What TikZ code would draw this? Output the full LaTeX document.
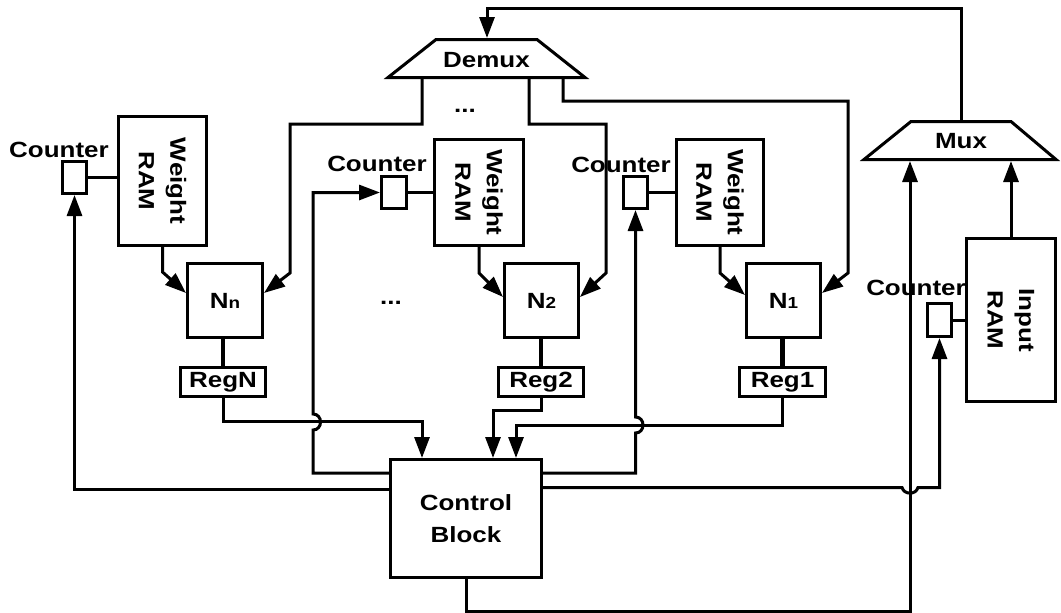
\documentclass[tikz,border=0pt]{standalone}
\usepackage{fontspec}
\newfontfamily\dfont{Liberation Sans}[FakeStretch=1.18]
\usetikzlibrary{arrows.meta,calc}
\begin{document}
\begin{tikzpicture}[x=1pt,y=-1pt,line width=3pt,
  every node/.style={font={\dfont\fontsize{22}{31.5}\selectfont\bfseries},inner sep=0pt},
  box/.style={draw,line width=3pt,inner sep=0pt},
  arr/.style={-{Triangle[length=21pt,width=15pt]}},
  bus/.style={line width=4.5pt},
  sub/.style={}]
\useasboundingbox (0,0) rectangle (1061,613);
% muxes
\draw (388,77.5) -- (436,39.5) -- (537,39.5) -- (585,77.5) -- cycle;
\node[anchor=base] (dmx) at (486.5,67) {Demux};
\draw (864,159.5) -- (911,121.5) -- (1011,121.5) -- (1056,159.5) -- cycle;
\node[anchor=base] (mx) at (961,148) {Mux};
\coordinate (dmIn) at (487,38);
\coordinate (dmO1) at (422,77.5);
\coordinate (dmO2) at (529,77.5);
\coordinate (dmO3) at (563,77.5);
\coordinate (mxOut) at (961,121.5);
\coordinate (mxIn1) at (910,161);
\coordinate (mxIn2) at (1011,161);
% RAMs
\node[box,minimum width=88pt,minimum height=129pt] (ramN) at (162.5,181) {};
\node[rotate=-90,align=center] (ramNt) at (ramN) {Weight\\RAM};
\node[box,minimum width=89pt,minimum height=106pt] (ram2) at (479,192.5) {};
\node[rotate=-90,align=center] (ram2t) at (ram2) {Weight\\RAM};
\node[box,minimum width=87pt,minimum height=106pt] (ram1) at (720,192.5) {};
\node[rotate=-90,align=center] (ram1t) at (ram1) {Weight\\RAM};
\node[box,minimum width=89pt,minimum height=163pt] (ramIn) at (1011,320) {};
\node[rotate=-90,align=center] (ramInt) at (ramIn) {Input\\RAM};
% counters
\node[box,minimum width=24pt,minimum height=32pt] (cntN) at (74.5,177.5) {};
\node[box,minimum width=25pt,minimum height=32pt] (cnt2) at (394,192.5) {};
\node[box,minimum width=24pt,minimum height=32pt] (cnt1) at (635.5,192.5) {};
\node[box,minimum width=24pt,minimum height=33pt] (cntIn) at (939.5,320) {};
\node[anchor=base] (lblN) at (59,157) {Counter};
\node[anchor=base] (lbl2) at (377,171) {Counter};
\node[anchor=base] (lbl1) at (621,172) {Counter};
\node[anchor=base] (lblIn) at (916,295) {Counter};
% neurons
\node[box,minimum width=75pt,minimum height=74pt] (Nn) at (225,300.5) {N{\fontsize{16}{16}\selectfont n}};
\node[box,minimum width=74pt,minimum height=74pt] (N2) at (541.5,300.5) {N{\fontsize{16}{16}\selectfont 2}};
\node[box,minimum width=74pt,minimum height=74pt] (N1) at (783.5,300.5) {N{\fontsize{16}{16}\selectfont 1}};
\node[anchor=base] (dots1) at (465,112) {...};
\node[anchor=base] (dots2) at (391,304) {...};
% registers
\node[box,minimum width=85pt,minimum height=29pt] (RegN) at (223,382) {RegN};
\node[box,minimum width=85pt,minimum height=29pt] (Reg2) at (541,382) {Reg2};
\node[box,minimum width=86pt,minimum height=29pt] (Reg1) at (782.5,382) {Reg1};
% control
\node[box,minimum width=151pt,minimum height=118pt,align=center] (ctrl) at (466,518.5) {Control\\Block};
% connectors
\draw[arr] (mxOut) -- (961,8) -| (dmIn);
\draw[arr] (dmO1) |- (290,124) -- (290,273) -- ($(Nn.east)+(0,-7.5)$);
\draw[arr] (dmO2) |- (606,124) -- (606,273) -- ($(N2.east)+(0,-3.5)$);
\draw[arr] (dmO3) |- (848,101) -- (848,273) -- ($(N1.east)+(0,-7.5)$);
\draw[arr] (ramN.south) -- ++(0,25) -- ($(Nn.west)+(0,-7.5)$);
\draw[arr] (ram2.south) -- ++(0,26) -- ($(N2.west)+(0,-3.5)$);
\draw[arr] (ram1.south) -- ++(0,26) -- ($(N1.west)+(0,-5.5)$);
\draw[bus] (RegN.north) -- (RegN.north |- Nn.south);
\draw[bus] (Reg2.north) -- (Reg2.north |- N2.south);
\draw[bus] (Reg1.north) -- (Reg1.north |- N1.south);
\draw[arr] (RegN.south) |- (422,421) -- ($(ctrl.north)+(-44,0)$);
\draw[arr] (Reg2.south) |- (493,410) -- ($(ctrl.north)+(27,0)$);
\draw[arr] (Reg1.south) |- (516,425) -- ($(ctrl.north)+(50,0)$);
\draw[arr] ($(ctrl.west)+(0,-45.5)$) -- (313,473) -- (313,430) .. controls (323,430) and (323,414) .. (313,414) -- (313,192.5) -- (cnt2.west);
\draw[arr] ($(ctrl.west)+(0,-29)$) -| (cntN.south);
\draw[arr] ($(ctrl.east)+(0,-45.5)$) -- (635.5,473) -- (635.5,433) .. controls (645.5,433) and (645.5,417) .. (635.5,417) -- (cnt1.south);
\draw[arr] ($(ctrl.east)+(0,-31)$) -- (902,487.5) .. controls (904,495) and (916,495) .. (918,487.5) -| (cntIn.south);
\draw[arr] (ctrl.south) |- (910,611) -- (mxIn1);
\draw[arr] (ramIn.north) -- (mxIn2);
\draw (cntN.east) -- (ramN.west |- cntN.east);
\draw (cnt2.east) -- (ram2.west |- cnt2.east);
\draw (cnt1.east) -- (ram1.west |- cnt1.east);
\draw (cntIn.east) -- (ramIn.west |- cntIn.east);
\end{tikzpicture}
\end{document}
